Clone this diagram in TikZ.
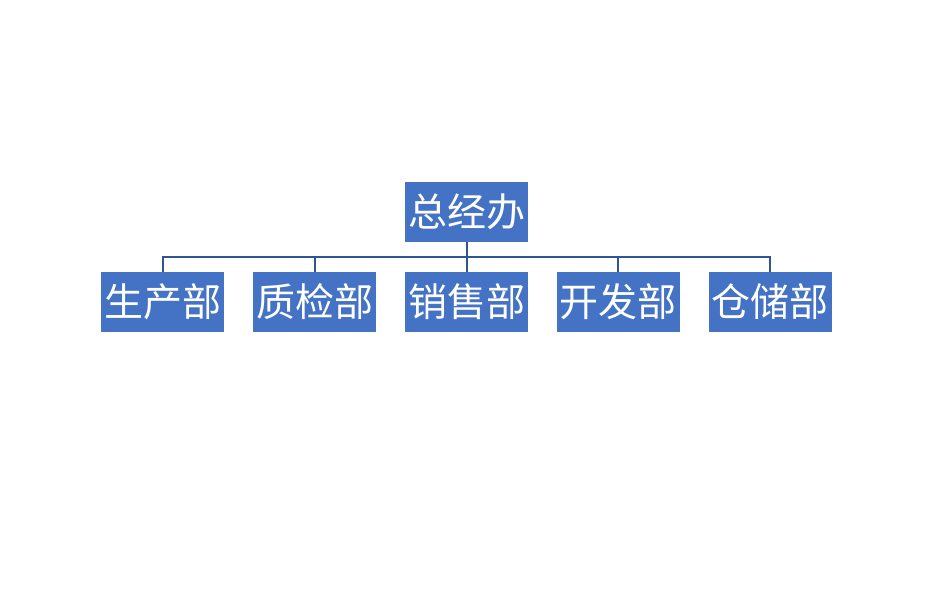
\documentclass[tikz,border=0pt]{standalone}
\usepackage{fontspec}
\newfontfamily\cjk{Noto Sans CJK SC}
\definecolor{boxblue}{RGB}{68,114,196}
\definecolor{lineblue}{RGB}{47,85,151}
\begin{document}
\begin{tikzpicture}[x=1pt,y=-1pt,
  orgbox/.style={fill=boxblue,text=white,minimum width=123pt,minimum height=60pt,inner sep=0pt,font=\cjk\fontsize{39}{42}\selectfont},
  link/.style={draw=lineblue,line width=2pt}]
\useasboundingbox (0,0) rectangle (940,614);
\node[orgbox] (top) at (466.5,212) {总经办};
\node[orgbox] (c1) at (162.5,302) {生产部};
\node[orgbox] (c2) at (314.5,302) {质检部};
\node[orgbox] (c3) at (466.5,302) {销售部};
\node[orgbox] (c4) at (618,302) {开发部};
\node[orgbox] (c5) at (770,302) {仓储部};
\foreach \c in {c1,c2,c3,c4,c5}{
  \draw[link] (top.south) -- ++(0,15) -| (\c.north);
}
\end{tikzpicture}
\end{document}
